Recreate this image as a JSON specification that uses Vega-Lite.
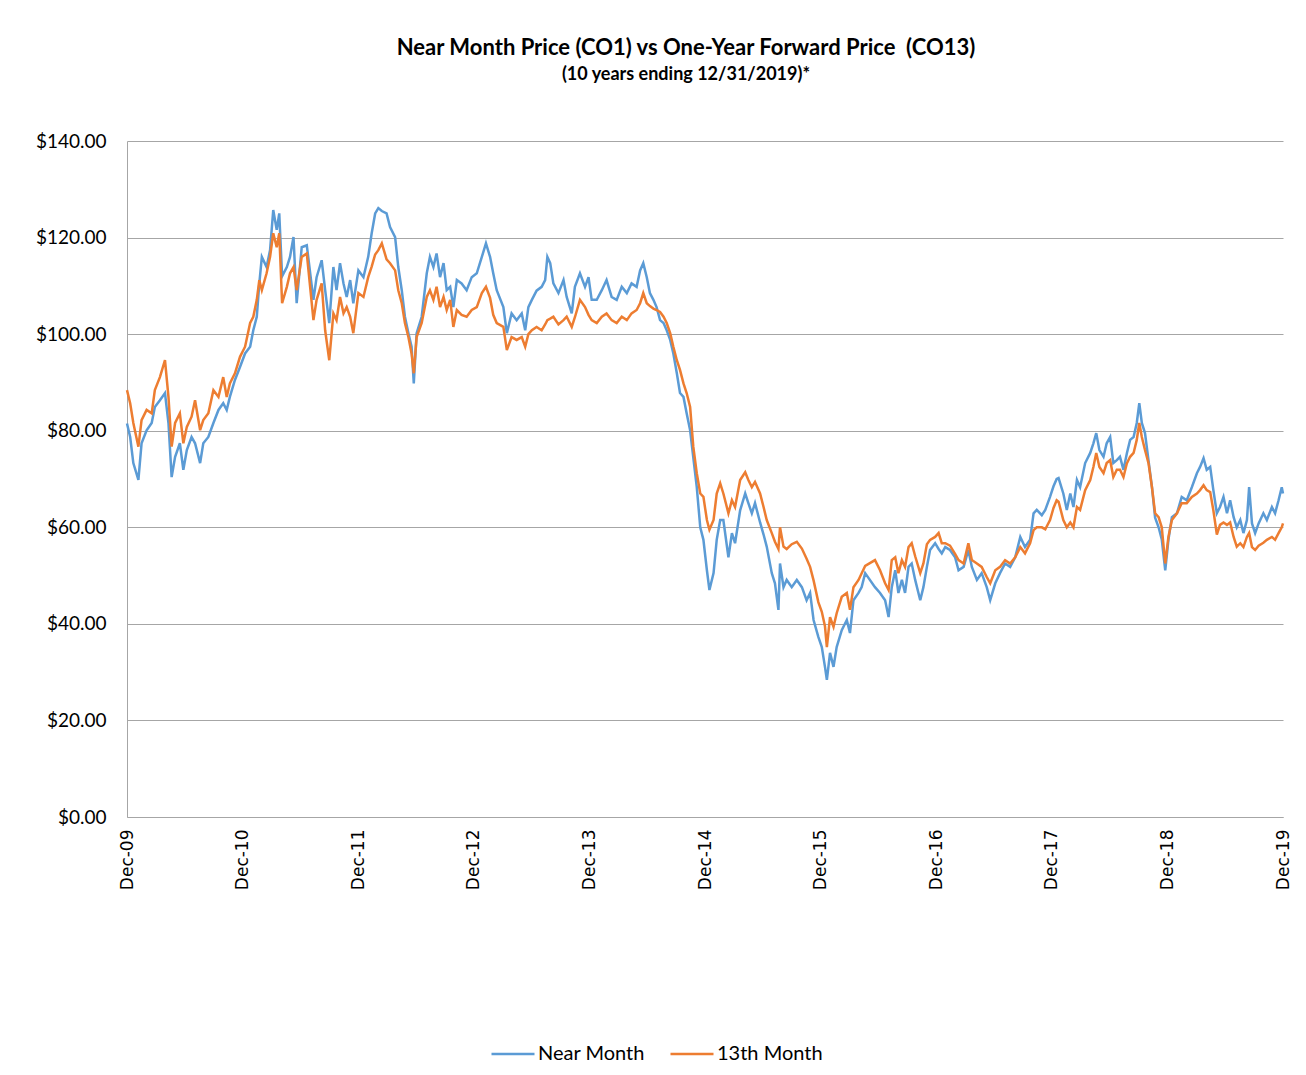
{
  "$schema": "https://vega.github.io/schema/vega-lite/v6.json",
  "width": 1156,
  "height": 676,
  "autosize": {"type": "none"},
  "padding": {"left": 127, "top": 141, "right": 23, "bottom": 258},
  "background": "white",
  "config": {"view": {"stroke": null}},
  "title": {
    "text": "Near Month Price (CO1) vs One-Year Forward Price \u00a0(CO13)",
    "subtitle": "(10 years ending 12/31/2019)*",
    "font": "Lato", "fontWeight": "bold", "fontSize": 22, "color": "#000",
    "subtitleFont": "Lato", "subtitleFontWeight": "bold", "subtitleFontSize": 18, "subtitleColor": "#000",
    "anchor": "middle", "dx": -19, "offset": 47, "subtitlePadding": 6
  },
  "data": {"values": [
    {"date": "2009-12-31", "Near Month": 81.5, "13th Month": 88.4},
    {"date": "2010-01-10", "Near Month": 78.7, "13th Month": 85.7},
    {"date": "2010-01-20", "Near Month": 73.3, "13th Month": 81.6},
    {"date": "2010-02-05", "Near Month": 69.8, "13th Month": 76.7},
    {"date": "2010-02-15", "Near Month": 77.4, "13th Month": 82.2},
    {"date": "2010-03-03", "Near Month": 80.1, "13th Month": 84.3},
    {"date": "2010-03-19", "Near Month": 81.6, "13th Month": 83.6},
    {"date": "2010-03-29", "Near Month": 84.9, "13th Month": 88.4},
    {"date": "2010-04-14", "Near Month": 86.3, "13th Month": 91.1},
    {"date": "2010-04-30", "Near Month": 87.8, "13th Month": 94.6},
    {"date": "2010-05-11", "Near Month": 81.6, "13th Month": 87.0},
    {"date": "2010-05-21", "Near Month": 70.4, "13th Month": 76.7},
    {"date": "2010-06-01", "Near Month": 74.6, "13th Month": 81.6},
    {"date": "2010-06-16", "Near Month": 77.4, "13th Month": 83.6},
    {"date": "2010-06-27", "Near Month": 71.9, "13th Month": 77.4},
    {"date": "2010-07-08", "Near Month": 76.0, "13th Month": 80.8},
    {"date": "2010-07-23", "Near Month": 78.7, "13th Month": 82.9},
    {"date": "2010-08-03", "Near Month": 77.4, "13th Month": 86.3},
    {"date": "2010-08-19", "Near Month": 73.3, "13th Month": 80.1},
    {"date": "2010-08-29", "Near Month": 77.4, "13th Month": 82.2},
    {"date": "2010-09-14", "Near Month": 78.7, "13th Month": 83.6},
    {"date": "2010-09-30", "Near Month": 81.6, "13th Month": 88.4},
    {"date": "2010-10-16", "Near Month": 84.3, "13th Month": 87.0},
    {"date": "2010-10-31", "Near Month": 85.7, "13th Month": 91.1},
    {"date": "2010-11-11", "Near Month": 84.3, "13th Month": 87.0},
    {"date": "2010-11-21", "Near Month": 87.0, "13th Month": 89.8},
    {"date": "2010-12-07", "Near Month": 90.5, "13th Month": 91.9},
    {"date": "2010-12-23", "Near Month": 93.2, "13th Month": 95.3},
    {"date": "2011-01-08", "Near Month": 96.0, "13th Month": 97.4},
    {"date": "2011-01-24", "Near Month": 97.4, "13th Month": 102.3},
    {"date": "2011-02-03", "Near Month": 100.8, "13th Month": 103.6},
    {"date": "2011-02-14", "Near Month": 103.6, "13th Month": 107.1},
    {"date": "2011-02-22", "Near Month": 110.5, "13th Month": 111.2},
    {"date": "2011-03-02", "Near Month": 116.0, "13th Month": 109.1},
    {"date": "2011-03-17", "Near Month": 113.9, "13th Month": 112.6},
    {"date": "2011-03-28", "Near Month": 117.4, "13th Month": 116.0},
    {"date": "2011-04-07", "Near Month": 125.7, "13th Month": 120.9},
    {"date": "2011-04-18", "Near Month": 121.6, "13th Month": 118.0},
    {"date": "2011-04-26", "Near Month": 125.0, "13th Month": 120.9},
    {"date": "2011-05-05", "Near Month": 112.0, "13th Month": 106.4},
    {"date": "2011-05-20", "Near Month": 113.9, "13th Month": 109.8},
    {"date": "2011-05-30", "Near Month": 116.0, "13th Month": 112.6},
    {"date": "2011-06-10", "Near Month": 120.1, "13th Month": 113.9},
    {"date": "2011-06-20", "Near Month": 106.4, "13th Month": 109.1},
    {"date": "2011-07-06", "Near Month": 118.0, "13th Month": 116.0},
    {"date": "2011-07-22", "Near Month": 118.4, "13th Month": 116.7},
    {"date": "2011-08-12", "Near Month": 107.1, "13th Month": 102.9},
    {"date": "2011-08-22", "Near Month": 111.8, "13th Month": 107.1},
    {"date": "2011-09-07", "Near Month": 115.3, "13th Month": 110.5},
    {"date": "2011-09-18", "Near Month": 109.1, "13th Month": 100.8},
    {"date": "2011-10-01", "Near Month": 102.3, "13th Month": 94.6},
    {"date": "2011-10-14", "Near Month": 113.9, "13th Month": 104.3},
    {"date": "2011-10-24", "Near Month": 109.1, "13th Month": 102.9},
    {"date": "2011-11-04", "Near Month": 114.7, "13th Month": 107.7},
    {"date": "2011-11-15", "Near Month": 110.5, "13th Month": 104.3},
    {"date": "2011-11-25", "Near Month": 107.7, "13th Month": 105.6},
    {"date": "2011-12-06", "Near Month": 111.2, "13th Month": 103.6},
    {"date": "2011-12-16", "Near Month": 106.4, "13th Month": 100.2},
    {"date": "2012-01-01", "Near Month": 113.2, "13th Month": 108.5},
    {"date": "2012-01-17", "Near Month": 111.8, "13th Month": 107.7},
    {"date": "2012-02-01", "Near Month": 116.0, "13th Month": 111.8},
    {"date": "2012-02-12", "Near Month": 120.9, "13th Month": 114.0},
    {"date": "2012-02-23", "Near Month": 125.0, "13th Month": 116.5},
    {"date": "2012-03-04", "Near Month": 126.1, "13th Month": 117.4},
    {"date": "2012-03-15", "Near Month": 125.5, "13th Month": 118.8},
    {"date": "2012-03-30", "Near Month": 125.0, "13th Month": 115.5},
    {"date": "2012-04-10", "Near Month": 122.2, "13th Month": 114.7},
    {"date": "2012-04-26", "Near Month": 120.1, "13th Month": 113.2},
    {"date": "2012-05-06", "Near Month": 113.9, "13th Month": 109.1},
    {"date": "2012-05-17", "Near Month": 109.1, "13th Month": 106.4},
    {"date": "2012-05-27", "Near Month": 103.6, "13th Month": 102.3},
    {"date": "2012-06-07", "Near Month": 100.2, "13th Month": 99.4},
    {"date": "2012-06-17", "Near Month": 97.4, "13th Month": 96.0},
    {"date": "2012-06-24", "Near Month": 89.8, "13th Month": 91.9},
    {"date": "2012-07-03", "Near Month": 100.2, "13th Month": 99.4},
    {"date": "2012-07-19", "Near Month": 103.6, "13th Month": 102.3},
    {"date": "2012-08-04", "Near Month": 112.6, "13th Month": 107.7},
    {"date": "2012-08-14", "Near Month": 116.0, "13th Month": 109.1},
    {"date": "2012-08-25", "Near Month": 113.9, "13th Month": 107.1},
    {"date": "2012-09-04", "Near Month": 116.7, "13th Month": 109.8},
    {"date": "2012-09-15", "Near Month": 111.8, "13th Month": 105.6},
    {"date": "2012-09-26", "Near Month": 114.7, "13th Month": 107.7},
    {"date": "2012-10-06", "Near Month": 109.1, "13th Month": 105.0},
    {"date": "2012-10-17", "Near Month": 109.8, "13th Month": 107.1},
    {"date": "2012-10-27", "Near Month": 105.6, "13th Month": 101.5},
    {"date": "2012-11-07", "Near Month": 111.2, "13th Month": 105.0},
    {"date": "2012-11-22", "Near Month": 110.5, "13th Month": 104.0},
    {"date": "2012-12-08", "Near Month": 109.1, "13th Month": 103.6},
    {"date": "2012-12-24", "Near Month": 111.8, "13th Month": 105.0},
    {"date": "2013-01-09", "Near Month": 112.6, "13th Month": 105.6},
    {"date": "2013-01-25", "Near Month": 116.0, "13th Month": 108.5},
    {"date": "2013-02-07", "Near Month": 118.8, "13th Month": 109.8},
    {"date": "2013-02-20", "Near Month": 116.0, "13th Month": 107.5},
    {"date": "2013-03-02", "Near Month": 112.6, "13th Month": 104.0},
    {"date": "2013-03-13", "Near Month": 109.1, "13th Month": 102.3},
    {"date": "2013-04-03", "Near Month": 105.6, "13th Month": 101.5},
    {"date": "2013-04-14", "Near Month": 100.2, "13th Month": 96.7},
    {"date": "2013-04-29", "Near Month": 104.3, "13th Month": 99.4},
    {"date": "2013-05-15", "Near Month": 102.9, "13th Month": 98.8},
    {"date": "2013-05-31", "Near Month": 104.3, "13th Month": 99.4},
    {"date": "2013-06-11", "Near Month": 100.8, "13th Month": 97.4},
    {"date": "2013-06-21", "Near Month": 105.6, "13th Month": 100.0},
    {"date": "2013-07-02", "Near Month": 107.1, "13th Month": 100.8},
    {"date": "2013-07-17", "Near Month": 109.0, "13th Month": 101.5},
    {"date": "2013-08-02", "Near Month": 109.8, "13th Month": 100.8},
    {"date": "2013-08-13", "Near Month": 111.2, "13th Month": 102.0},
    {"date": "2013-08-20", "Near Month": 116.0, "13th Month": 102.9},
    {"date": "2013-08-29", "Near Month": 114.7, "13th Month": 103.2},
    {"date": "2013-09-08", "Near Month": 110.5, "13th Month": 103.6},
    {"date": "2013-09-24", "Near Month": 108.5, "13th Month": 102.0},
    {"date": "2013-10-10", "Near Month": 111.2, "13th Month": 102.9},
    {"date": "2013-10-20", "Near Month": 107.7, "13th Month": 103.6},
    {"date": "2013-11-05", "Near Month": 104.3, "13th Month": 101.5},
    {"date": "2013-11-15", "Near Month": 109.8, "13th Month": 103.5},
    {"date": "2013-12-01", "Near Month": 112.6, "13th Month": 107.1},
    {"date": "2013-12-17", "Near Month": 109.8, "13th Month": 105.6},
    {"date": "2013-12-28", "Near Month": 111.8, "13th Month": 104.0},
    {"date": "2014-01-07", "Near Month": 107.1, "13th Month": 102.9},
    {"date": "2014-01-23", "Near Month": 107.1, "13th Month": 102.3},
    {"date": "2014-02-08", "Near Month": 109.1, "13th Month": 103.6},
    {"date": "2014-02-23", "Near Month": 111.2, "13th Month": 104.3},
    {"date": "2014-03-11", "Near Month": 107.7, "13th Month": 102.9},
    {"date": "2014-03-27", "Near Month": 107.1, "13th Month": 102.3},
    {"date": "2014-04-12", "Near Month": 109.8, "13th Month": 103.6},
    {"date": "2014-04-28", "Near Month": 108.5, "13th Month": 102.9},
    {"date": "2014-05-13", "Near Month": 110.5, "13th Month": 104.3},
    {"date": "2014-05-29", "Near Month": 109.8, "13th Month": 105.0},
    {"date": "2014-06-09", "Near Month": 113.2, "13th Month": 106.4},
    {"date": "2014-06-19", "Near Month": 114.7, "13th Month": 108.5},
    {"date": "2014-06-30", "Near Month": 111.8, "13th Month": 106.4},
    {"date": "2014-07-10", "Near Month": 108.5, "13th Month": 105.8},
    {"date": "2014-07-21", "Near Month": 107.1, "13th Month": 105.3},
    {"date": "2014-07-31", "Near Month": 105.6, "13th Month": 105.0},
    {"date": "2014-08-11", "Near Month": 102.9, "13th Month": 104.6},
    {"date": "2014-08-22", "Near Month": 102.3, "13th Month": 103.6},
    {"date": "2014-09-01", "Near Month": 100.8, "13th Month": 102.3},
    {"date": "2014-09-12", "Near Month": 98.8, "13th Month": 100.2},
    {"date": "2014-09-22", "Near Month": 96.0, "13th Month": 97.4},
    {"date": "2014-10-03", "Near Month": 91.9, "13th Month": 94.6},
    {"date": "2014-10-13", "Near Month": 87.8, "13th Month": 92.6},
    {"date": "2014-10-24", "Near Month": 87.0, "13th Month": 89.8},
    {"date": "2014-11-03", "Near Month": 83.6, "13th Month": 87.8},
    {"date": "2014-11-14", "Near Month": 80.1, "13th Month": 84.9},
    {"date": "2014-11-24", "Near Month": 74.5, "13th Month": 76.7},
    {"date": "2014-12-05", "Near Month": 68.3, "13th Month": 71.2},
    {"date": "2014-12-16", "Near Month": 60.0, "13th Month": 67.0},
    {"date": "2014-12-26", "Near Month": 57.4, "13th Month": 66.3},
    {"date": "2015-01-06", "Near Month": 51.1, "13th Month": 61.5},
    {"date": "2015-01-14", "Near Month": 47.0, "13th Month": 59.5},
    {"date": "2015-01-27", "Near Month": 50.5, "13th Month": 61.5},
    {"date": "2015-02-06", "Near Month": 57.4, "13th Month": 67.0},
    {"date": "2015-02-17", "Near Month": 61.5, "13th Month": 69.1},
    {"date": "2015-02-27", "Near Month": 61.5, "13th Month": 67.0},
    {"date": "2015-03-15", "Near Month": 53.8, "13th Month": 62.9},
    {"date": "2015-03-26", "Near Month": 58.8, "13th Month": 65.6},
    {"date": "2015-04-05", "Near Month": 56.7, "13th Month": 64.2},
    {"date": "2015-04-21", "Near Month": 63.5, "13th Month": 69.8},
    {"date": "2015-05-07", "Near Month": 67.0, "13th Month": 71.4},
    {"date": "2015-05-17", "Near Month": 65.0, "13th Month": 69.8},
    {"date": "2015-05-28", "Near Month": 62.9, "13th Month": 68.3},
    {"date": "2015-06-07", "Near Month": 65.0, "13th Month": 69.4},
    {"date": "2015-06-23", "Near Month": 61.0, "13th Month": 67.0},
    {"date": "2015-07-04", "Near Month": 58.5, "13th Month": 64.2},
    {"date": "2015-07-14", "Near Month": 56.0, "13th Month": 61.5},
    {"date": "2015-07-30", "Near Month": 50.5, "13th Month": 58.8},
    {"date": "2015-08-09", "Near Month": 48.4, "13th Month": 57.0},
    {"date": "2015-08-20", "Near Month": 42.9, "13th Month": 55.5},
    {"date": "2015-08-25", "Near Month": 52.5, "13th Month": 60.0},
    {"date": "2015-09-05", "Near Month": 47.6, "13th Month": 56.0},
    {"date": "2015-09-15", "Near Month": 49.1, "13th Month": 55.5},
    {"date": "2015-10-01", "Near Month": 47.6, "13th Month": 56.5},
    {"date": "2015-10-17", "Near Month": 49.1, "13th Month": 57.0},
    {"date": "2015-11-02", "Near Month": 47.6, "13th Month": 55.6},
    {"date": "2015-11-17", "Near Month": 44.9, "13th Month": 53.5},
    {"date": "2015-11-28", "Near Month": 46.4, "13th Month": 51.8},
    {"date": "2015-12-09", "Near Month": 40.8, "13th Month": 49.0},
    {"date": "2015-12-24", "Near Month": 37.3, "13th Month": 44.5},
    {"date": "2016-01-04", "Near Month": 35.2, "13th Month": 42.5},
    {"date": "2016-01-14", "Near Month": 31.1, "13th Month": 39.5},
    {"date": "2016-01-20", "Near Month": 28.4, "13th Month": 35.2},
    {"date": "2016-01-30", "Near Month": 34.0, "13th Month": 41.4},
    {"date": "2016-02-10", "Near Month": 31.1, "13th Month": 39.4},
    {"date": "2016-02-20", "Near Month": 35.2, "13th Month": 42.2},
    {"date": "2016-03-07", "Near Month": 38.7, "13th Month": 45.6},
    {"date": "2016-03-23", "Near Month": 40.8, "13th Month": 46.4},
    {"date": "2016-04-02", "Near Month": 38.1, "13th Month": 42.9},
    {"date": "2016-04-13", "Near Month": 44.9, "13th Month": 47.6},
    {"date": "2016-04-29", "Near Month": 46.4, "13th Month": 49.1},
    {"date": "2016-05-09", "Near Month": 47.6, "13th Month": 50.5},
    {"date": "2016-05-20", "Near Month": 50.5, "13th Month": 52.0},
    {"date": "2016-06-20", "Near Month": 47.6, "13th Month": 53.2},
    {"date": "2016-07-06", "Near Month": 46.4, "13th Month": 51.1},
    {"date": "2016-07-22", "Near Month": 44.9, "13th Month": 48.4},
    {"date": "2016-08-02", "Near Month": 41.4, "13th Month": 47.0},
    {"date": "2016-08-12", "Near Month": 47.6, "13th Month": 53.2},
    {"date": "2016-08-23", "Near Month": 51.1, "13th Month": 53.8},
    {"date": "2016-09-02", "Near Month": 46.4, "13th Month": 50.5},
    {"date": "2016-09-13", "Near Month": 49.1, "13th Month": 53.2},
    {"date": "2016-09-23", "Near Month": 46.4, "13th Month": 51.8},
    {"date": "2016-10-04", "Near Month": 51.8, "13th Month": 55.9},
    {"date": "2016-10-14", "Near Month": 52.5, "13th Month": 56.7},
    {"date": "2016-10-25", "Near Month": 49.1, "13th Month": 54.0},
    {"date": "2016-11-10", "Near Month": 44.9, "13th Month": 50.5},
    {"date": "2016-11-20", "Near Month": 47.6, "13th Month": 52.5},
    {"date": "2016-12-01", "Near Month": 51.8, "13th Month": 56.5},
    {"date": "2016-12-11", "Near Month": 55.3, "13th Month": 57.4},
    {"date": "2016-12-27", "Near Month": 56.7, "13th Month": 58.0},
    {"date": "2017-01-07", "Near Month": 55.5, "13th Month": 58.8},
    {"date": "2017-01-17", "Near Month": 54.6, "13th Month": 56.7},
    {"date": "2017-01-28", "Near Month": 55.9, "13th Month": 56.7},
    {"date": "2017-02-12", "Near Month": 55.3, "13th Month": 56.2},
    {"date": "2017-02-28", "Near Month": 53.8, "13th Month": 54.5},
    {"date": "2017-03-11", "Near Month": 51.1, "13th Month": 53.2},
    {"date": "2017-03-27", "Near Month": 51.8, "13th Month": 52.5},
    {"date": "2017-04-11", "Near Month": 55.3, "13th Month": 56.7},
    {"date": "2017-04-22", "Near Month": 51.8, "13th Month": 53.2},
    {"date": "2017-05-08", "Near Month": 49.1, "13th Month": 52.5},
    {"date": "2017-05-23", "Near Month": 50.5, "13th Month": 51.8},
    {"date": "2017-06-08", "Near Month": 47.6, "13th Month": 49.7},
    {"date": "2017-06-19", "Near Month": 44.9, "13th Month": 48.4},
    {"date": "2017-07-05", "Near Month": 48.4, "13th Month": 51.1},
    {"date": "2017-07-20", "Near Month": 50.5, "13th Month": 51.8},
    {"date": "2017-08-05", "Near Month": 52.5, "13th Month": 53.2},
    {"date": "2017-08-21", "Near Month": 51.8, "13th Month": 52.5},
    {"date": "2017-09-06", "Near Month": 53.8, "13th Month": 53.8},
    {"date": "2017-09-22", "Near Month": 58.0, "13th Month": 55.9},
    {"date": "2017-10-07", "Near Month": 55.9, "13th Month": 54.6},
    {"date": "2017-10-23", "Near Month": 57.4, "13th Month": 56.7},
    {"date": "2017-11-03", "Near Month": 62.9, "13th Month": 59.4},
    {"date": "2017-11-13", "Near Month": 63.6, "13th Month": 60.0},
    {"date": "2017-11-29", "Near Month": 62.5, "13th Month": 60.0},
    {"date": "2017-12-10", "Near Month": 63.6, "13th Month": 59.6},
    {"date": "2017-12-25", "Near Month": 66.3, "13th Month": 61.5},
    {"date": "2018-01-05", "Near Month": 68.5, "13th Month": 64.0},
    {"date": "2018-01-15", "Near Month": 70.0, "13th Month": 65.6},
    {"date": "2018-01-21", "Near Month": 70.2, "13th Month": 65.3},
    {"date": "2018-02-05", "Near Month": 67.0, "13th Month": 61.5},
    {"date": "2018-02-16", "Near Month": 63.6, "13th Month": 60.0},
    {"date": "2018-02-27", "Near Month": 67.0, "13th Month": 61.0},
    {"date": "2018-03-09", "Near Month": 64.2, "13th Month": 60.0},
    {"date": "2018-03-20", "Near Month": 69.8, "13th Month": 64.2},
    {"date": "2018-03-30", "Near Month": 68.3, "13th Month": 63.6},
    {"date": "2018-04-15", "Near Month": 73.3, "13th Month": 67.7},
    {"date": "2018-05-01", "Near Month": 75.4, "13th Month": 69.8},
    {"date": "2018-05-11", "Near Month": 77.4, "13th Month": 72.5},
    {"date": "2018-05-20", "Near Month": 79.5, "13th Month": 75.4},
    {"date": "2018-05-30", "Near Month": 76.0, "13th Month": 72.5},
    {"date": "2018-06-12", "Near Month": 74.6, "13th Month": 71.2},
    {"date": "2018-06-22", "Near Month": 77.4, "13th Month": 73.3},
    {"date": "2018-07-03", "Near Month": 78.7, "13th Month": 73.9},
    {"date": "2018-07-13", "Near Month": 73.3, "13th Month": 70.4},
    {"date": "2018-07-24", "Near Month": 73.9, "13th Month": 71.9},
    {"date": "2018-08-03", "Near Month": 74.6, "13th Month": 71.9},
    {"date": "2018-08-14", "Near Month": 71.9, "13th Month": 70.4},
    {"date": "2018-08-25", "Near Month": 75.4, "13th Month": 73.3},
    {"date": "2018-09-04", "Near Month": 78.1, "13th Month": 74.6},
    {"date": "2018-09-15", "Near Month": 78.7, "13th Month": 75.4},
    {"date": "2018-09-25", "Near Month": 81.6, "13th Month": 78.1},
    {"date": "2018-10-03", "Near Month": 85.7, "13th Month": 81.6},
    {"date": "2018-10-11", "Near Month": 81.6, "13th Month": 78.7},
    {"date": "2018-10-21", "Near Month": 79.5, "13th Month": 76.0},
    {"date": "2018-11-01", "Near Month": 73.9, "13th Month": 73.3},
    {"date": "2018-11-12", "Near Month": 68.3, "13th Month": 68.3},
    {"date": "2018-11-22", "Near Month": 62.0, "13th Month": 62.9},
    {"date": "2018-12-03", "Near Month": 60.0, "13th Month": 62.1},
    {"date": "2018-12-13", "Near Month": 57.5, "13th Month": 60.0},
    {"date": "2018-12-24", "Near Month": 51.1, "13th Month": 52.5},
    {"date": "2019-01-03", "Near Month": 57.4, "13th Month": 58.0},
    {"date": "2019-01-14", "Near Month": 62.1, "13th Month": 61.5},
    {"date": "2019-01-30", "Near Month": 62.9, "13th Month": 62.9},
    {"date": "2019-02-14", "Near Month": 66.3, "13th Month": 65.0},
    {"date": "2019-03-02", "Near Month": 65.6, "13th Month": 65.0},
    {"date": "2019-03-18", "Near Month": 68.3, "13th Month": 66.3},
    {"date": "2019-04-03", "Near Month": 71.2, "13th Month": 67.0},
    {"date": "2019-04-13", "Near Month": 72.5, "13th Month": 67.7},
    {"date": "2019-04-24", "Near Month": 74.3, "13th Month": 68.7},
    {"date": "2019-05-04", "Near Month": 71.9, "13th Month": 67.7},
    {"date": "2019-05-15", "Near Month": 72.5, "13th Month": 67.3},
    {"date": "2019-05-25", "Near Month": 67.7, "13th Month": 63.5},
    {"date": "2019-06-05", "Near Month": 62.9, "13th Month": 58.5},
    {"date": "2019-06-15", "Near Month": 64.2, "13th Month": 60.5},
    {"date": "2019-06-26", "Near Month": 66.3, "13th Month": 61.0},
    {"date": "2019-07-07", "Near Month": 62.9, "13th Month": 60.5},
    {"date": "2019-07-17", "Near Month": 65.6, "13th Month": 61.0},
    {"date": "2019-07-28", "Near Month": 62.1, "13th Month": 58.0},
    {"date": "2019-08-07", "Near Month": 60.0, "13th Month": 56.0},
    {"date": "2019-08-18", "Near Month": 61.5, "13th Month": 56.7},
    {"date": "2019-08-28", "Near Month": 58.8, "13th Month": 55.9},
    {"date": "2019-09-08", "Near Month": 61.5, "13th Month": 58.0},
    {"date": "2019-09-15", "Near Month": 68.3, "13th Month": 58.8},
    {"date": "2019-09-24", "Near Month": 60.8, "13th Month": 55.9},
    {"date": "2019-10-04", "Near Month": 58.8, "13th Month": 55.3},
    {"date": "2019-10-15", "Near Month": 60.8, "13th Month": 56.2},
    {"date": "2019-10-30", "Near Month": 62.9, "13th Month": 56.8},
    {"date": "2019-11-10", "Near Month": 61.5, "13th Month": 57.4},
    {"date": "2019-11-26", "Near Month": 64.2, "13th Month": 58.0},
    {"date": "2019-12-06", "Near Month": 62.9, "13th Month": 57.4},
    {"date": "2019-12-17", "Near Month": 65.6, "13th Month": 58.8},
    {"date": "2019-12-27", "Near Month": 68.3, "13th Month": 60.0},
    {"date": "2019-12-31", "Near Month": 67.0, "13th Month": 60.8}
  ]},
  "transform": [{"fold": ["Near Month", "13th Month"], "as": ["series", "price"]}],
  "encoding": {
    "x": {
      "field": "date", "type": "temporal",
      "scale": {"type": "utc", "domain": [{"year": 2009, "month": 12, "date": 31, "utc": true}, {"year": 2019, "month": 12, "date": 31, "utc": true}]},
      "axis": {
        "title": null,
        "values": [
          {"year": 2009, "month": 12, "date": 31, "utc": true},
          {"year": 2010, "month": 12, "date": 31, "utc": true},
          {"year": 2011, "month": 12, "date": 31, "utc": true},
          {"year": 2012, "month": 12, "date": 31, "utc": true},
          {"year": 2013, "month": 12, "date": 31, "utc": true},
          {"year": 2014, "month": 12, "date": 31, "utc": true},
          {"year": 2015, "month": 12, "date": 31, "utc": true},
          {"year": 2016, "month": 12, "date": 31, "utc": true},
          {"year": 2017, "month": 12, "date": 31, "utc": true},
          {"year": 2018, "month": 12, "date": 31, "utc": true},
          {"year": 2019, "month": 12, "date": 31, "utc": true}
        ],
        "format": "%b-%y",
        "labelAngle": -90, "labelAlign": "right", "labelBaseline": "middle",
        "labelFont": "DejaVu Sans", "labelFontSize": 17, "labelColor": "#000",
        "labelPadding": 12, "labelOverlap": false, "labelFlush": false, "labelBound": false,
        "ticks": false, "grid": false, "domainColor": "#a6a6a6", "domainWidth": 1
      }
    },
    "y": {
      "field": "price", "type": "quantitative",
      "scale": {"domain": [0, 140], "nice": false},
      "axis": {
        "title": null, "values": [0, 20, 40, 60, 80, 100, 120, 140], "format": "$.2f",
        "labelFont": "Lato", "labelFontSize": 19, "labelColor": "#000", "labelPadding": 21,
        "ticks": false, "grid": true, "gridColor": "#a6a6a6", "gridWidth": 1,
        "domainColor": "#a6a6a6", "domainWidth": 1
      }
    },
    "color": {
      "field": "series", "type": "nominal",
      "scale": {"domain": ["Near Month", "13th Month"], "range": ["#5B9BD5", "#ED7D31"]},
      "legend": {
        "orient": "none", "legendX": 363, "legendY": 890, "direction": "horizontal",
        "title": null, "symbolType": "stroke", "symbolSize": 1849, "symbolStrokeWidth": 2.5,
        "labelFont": "Lato", "labelFontSize": 20, "labelColor": "#000", "labelOffset": 2,
        "columnPadding": 20, "padding": 0
      }
    }
  },
  "layer": [
    {"transform": [{"filter": "datum.series === 'Near Month'"}], "mark": {"type": "line", "strokeWidth": 2.5}},
    {"transform": [{"filter": "datum.series === '13th Month'"}], "mark": {"type": "line", "strokeWidth": 2.5}}
  ]
}
